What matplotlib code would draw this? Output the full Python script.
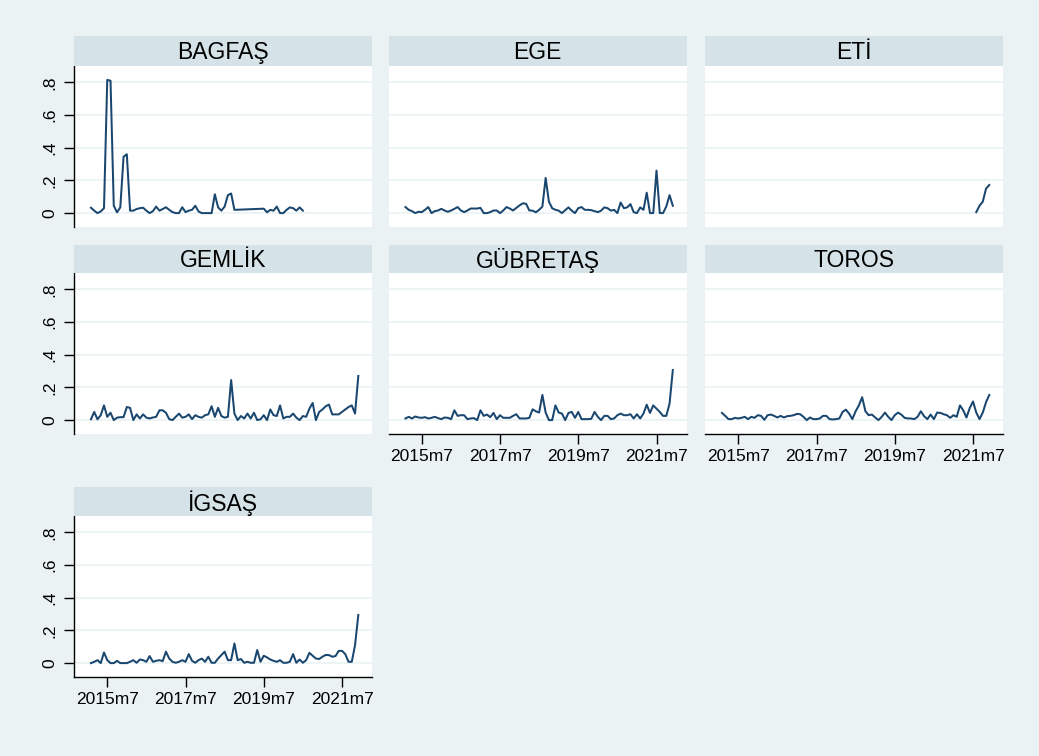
import numpy as np
import pandas as pd
import matplotlib
matplotlib.use('Agg')
import matplotlib.pyplot as plt

plt.rcParams['font.family'] = ['Liberation Sans', 'DejaVu Sans']

# monthly series 2015m2 .. 2021m12
months = pd.period_range('2015-02', '2021-12', freq='M')
tick_labels = ['2015m7', '2017m7', '2019m7', '2021m7']

nan = np.nan
bagfas = [0.033, 0.015, 0.0, 0.01, 0.03, 0.815, 0.81, 0.045, 0.005, 0.035,
          0.345, 0.36, 0.015, 0.015, 0.025, 0.03, 0.033, 0.015, 0.0, 0.012,
          0.04, 0.015, 0.025, 0.036, 0.02, 0.006, 0.0, 0.0, 0.036, 0.006,
          0.015, 0.02, 0.045, 0.01, 0.0, 0.0, 0.0, 0.0, 0.115, 0.035,
          0.015, 0.04, 0.11, 0.12, 0.02,
          nan, nan, nan, nan, nan, nan, nan, nan,
          0.027, 0.005, 0.02, 0.015, 0.04, 0.0, 0.0, 0.02, 0.035, 0.03,
          0.015, 0.035, 0.015] + [nan] * 17

ege = [0.037, 0.02, 0.012, 0.0, 0.008, 0.006, 0.02, 0.037, 0.0, 0.012,
       0.016, 0.026, 0.016, 0.008, 0.016, 0.026, 0.037, 0.016, 0.006, 0.016,
       0.028, 0.028, 0.028, 0.032, 0.0, 0.0, 0.006, 0.016, 0.016, 0.0,
       0.016, 0.037, 0.028, 0.016, 0.032, 0.047, 0.06, 0.057, 0.016, 0.015,
       0.005, 0.02, 0.04, 0.215, 0.07, 0.03, 0.02, 0.015, 0.0, 0.018,
       0.035, 0.015, 0.0, 0.03, 0.037, 0.02, 0.02, 0.018, 0.012, 0.006,
       0.015, 0.035, 0.03, 0.015, 0.02, 0.0, 0.065, 0.03, 0.035, 0.055,
       0.006, 0.0, 0.035, 0.02, 0.125, 0.0, 0.0, 0.26, 0.0, 0.0,
       0.04, 0.11, 0.045]

eti = [nan] * 78 + [0.006, 0.045, 0.07, 0.15, 0.172]

gemlik = [0.005, 0.05, 0.005, 0.03, 0.09, 0.02, 0.045, 0.0, 0.015, 0.018,
          0.018, 0.08, 0.075, 0.0, 0.035, 0.01, 0.035, 0.015, 0.01, 0.016,
          0.02, 0.06, 0.06, 0.045, 0.006, 0.0, 0.02, 0.04, 0.015, 0.02,
          0.035, 0.006, 0.03, 0.02, 0.015, 0.03, 0.035, 0.085, 0.02, 0.075,
          0.025, 0.015, 0.02, 0.245, 0.04, 0.0, 0.025, 0.01, 0.04, 0.01,
          0.045, 0.0, 0.005, 0.03, 0.0, 0.065, 0.03, 0.025, 0.09, 0.01,
          0.02, 0.02, 0.04, 0.015, 0.0, 0.025, 0.02, 0.07, 0.105, 0.0,
          0.05, 0.065, 0.085, 0.095, 0.035, 0.035, 0.035, 0.05, 0.065, 0.08,
          0.09, 0.04, 0.27]

gubretas = [0.01, 0.02, 0.01, 0.022, 0.016, 0.014, 0.018, 0.01, 0.014, 0.02,
            0.012, 0.006, 0.016, 0.014, 0.006, 0.06, 0.026, 0.03, 0.03, 0.006,
            0.01, 0.012, 0.0, 0.06, 0.026, 0.034, 0.018, 0.044, 0.006, 0.03,
            0.014, 0.014, 0.014, 0.026, 0.036, 0.01, 0.01, 0.01, 0.014, 0.066,
            0.054, 0.046, 0.154, 0.046, 0.0, 0.0, 0.09, 0.046, 0.04, 0.0,
            0.044, 0.05, 0.014, 0.05, 0.006, 0.006, 0.006, 0.008, 0.05, 0.02,
            0.0, 0.026, 0.026, 0.006, 0.01, 0.03, 0.04, 0.03, 0.03, 0.036,
            0.01, 0.036, 0.01, 0.04, 0.094, 0.044, 0.09, 0.07, 0.05, 0.026,
            0.026, 0.1, 0.306]

toros = [0.044, 0.026, 0.006, 0.006, 0.014, 0.01, 0.014, 0.02, 0.006, 0.02,
         0.014, 0.03, 0.026, 0.002, 0.03, 0.034, 0.026, 0.016, 0.026, 0.016,
         0.024, 0.026, 0.03, 0.038, 0.036, 0.02, 0.0, 0.016, 0.006, 0.006,
         0.01, 0.026, 0.026, 0.006, 0.004, 0.006, 0.01, 0.05, 0.064, 0.04,
         0.006, 0.054, 0.09, 0.14, 0.054, 0.03, 0.034, 0.016, 0.0, 0.02,
         0.046, 0.02, 0.0, 0.03, 0.046, 0.034, 0.014, 0.01, 0.01, 0.006,
         0.02, 0.054, 0.024, 0.006, 0.034, 0.006, 0.046, 0.044, 0.036, 0.03,
         0.014, 0.03, 0.02, 0.09, 0.06, 0.016, 0.074, 0.114, 0.046, 0.006,
         0.046, 0.11, 0.154]

igsas = [0.0, 0.008, 0.018, 0.0, 0.065, 0.018, 0.0, 0.0, 0.014, 0.0,
         0.0, 0.0, 0.008, 0.018, 0.002, 0.022, 0.018, 0.008, 0.043, 0.008,
         0.014, 0.018, 0.012, 0.07, 0.028, 0.008, 0.002, 0.008, 0.018, 0.008,
         0.055, 0.014, 0.002, 0.018, 0.028, 0.008, 0.039, 0.002, 0.002, 0.028,
         0.049, 0.07, 0.018, 0.018, 0.12, 0.018, 0.025, 0.002, 0.008, 0.002,
         0.002, 0.08, 0.008, 0.045, 0.035, 0.022, 0.014, 0.008, 0.018, 0.002,
         0.002, 0.008, 0.055, 0.002, 0.022, 0.002, 0.018, 0.063, 0.045, 0.028,
         0.025, 0.039, 0.05, 0.049, 0.039, 0.043, 0.075, 0.075, 0.055, 0.008,
         0.008, 0.11, 0.295]

firms = ['BAGFAŞ', 'EGE', 'ETİ', 'GEMLİK', 'GÜBRETAŞ', 'TOROS', 'İGSAŞ']
series = [bagfas, ege, eti, gemlik, gubretas, toros, igsas]

# colours (Stata s2color look)
bg = '#eaf2f3'
strip_c = '#d5e3e8'
grid_c = '#eaf2f3'
line_c = '#1a476f'

W, H = 1039, 756
fig = plt.figure(figsize=(W / 100, H / 100), dpi=100, facecolor=bg)

col_left = [74, 388.5, 705]
row_top = [66, 273, 516]
strip_top = [36, 245, 487]
pw, ph = 298, 161

x = np.arange(len(months))
tick_pos = [list(months.strftime('%Y-%m')).index(t.replace('m', '-0')) for t in tick_labels]

show_x = {'GÜBRETAŞ', 'TOROS', 'İGSAŞ'}
lab_fs = 12.5

for k, (name, vals) in enumerate(zip(firms, series)):
    r, c = divmod(k, 3)
    left = col_left[c]
    ax = fig.add_axes([left / W, 1 - (row_top[r] + ph) / H, pw / W, ph / H])
    sax = fig.add_axes([left / W, 1 - row_top[r] / H, pw / W, (row_top[r] - strip_top[r]) / H])
    sax.set_facecolor(strip_c)
    sax.set_xticks([])
    sax.set_yticks([])
    for s in sax.spines.values():
        s.set_visible(False)
    sax.text(0.5, 0.45, name, ha='center', va='center', fontsize=16.5, transform=sax.transAxes)

    v = np.array(vals, dtype=float)
    ok = ~np.isnan(v)
    ax.plot(x[ok], v[ok], color=line_c, lw=1.45)

    ax.set_xlim(-5.2, 86.2)
    ax.set_ylim(-0.085, 0.9)
    ax.set_yticks([0, 0.2, 0.4, 0.6, 0.8])
    ax.yaxis.grid(True, color=grid_c, lw=1.2)
    ax.set_axisbelow(True)
    ax.set_facecolor('white')
    for s in ['top', 'right']:
        ax.spines[s].set_visible(False)

    if c == 0:
        ax.set_yticklabels(['0', '.2', '.4', '.6', '.8'], rotation=90, va='center', fontsize=lab_fs)
        ax.tick_params(axis='y', length=7, width=1, pad=5)
        ax.spines['left'].set_linewidth(1)
    else:
        ax.spines['left'].set_visible(False)
        ax.tick_params(axis='y', length=0, labelleft=False)

    if name in show_x:
        ax.set_xticks(tick_pos)
        ax.set_xticklabels(tick_labels, fontsize=lab_fs)
        ax.tick_params(axis='x', length=7, width=1, pad=4)
        ax.spines['bottom'].set_linewidth(1)
    else:
        ax.spines['bottom'].set_visible(False)
        ax.set_xticks([])

fig.savefig('out.png', dpi=100, facecolor=bg)
